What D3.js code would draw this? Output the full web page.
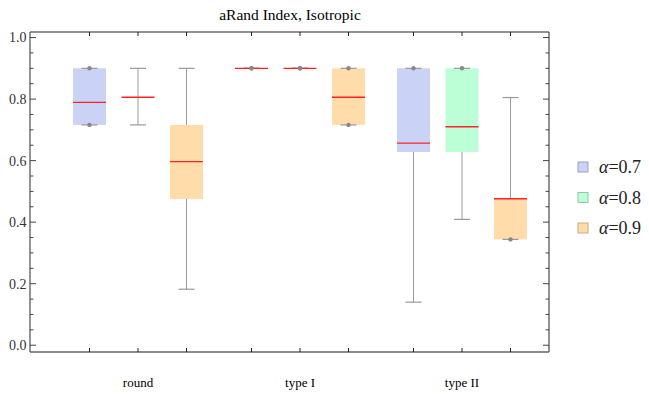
<!DOCTYPE html>
<html>
<head>
    <meta charset="utf-8">
    <title>aRand Index, Isotropic</title>
    <script src="https://d3js.org/d3.v7.min.js"></script>
    <style>
        body { margin: 0; background: #fff; }
        text { font-family: "Liberation Serif", "DejaVu Serif", serif; }
    </style>
</head>
<body>
    <svg width="649" height="394"></svg>
    <script>
        // dati
        var gruppi = ["round", "type I", "type II"];
        var alfa = ["0.7", "0.8", "0.9"];
        // per ogni gruppo, per ogni alfa: [min, q1, mediana, q3, max]
        var statRound = [
            [0.716, 0.716, 0.789, 0.9, 0.9],
            [0.716, 0.806, 0.806, 0.806, 0.9],
            [0.182, 0.475, 0.597, 0.716, 0.9]
        ];
        var statTypeI = [
            [0.9, 0.9, 0.9, 0.9, 0.9],
            [0.9, 0.9, 0.9, 0.9, 0.9],
            [0.716, 0.716, 0.806, 0.9, 0.9]
        ];
        var statTypeII = [
            [0.14, 0.628, 0.657, 0.9, 0.9],
            [0.409, 0.628, 0.71, 0.9, 0.9],
            [0.344, 0.344, 0.476, 0.476, 0.805]
        ];
        var yTicks = [0, 0.2, 0.4, 0.6, 0.8, 1.0];

        var riempimento = ["#cad3f6", "#bcfed6", "#ffdcaa"];
        var bordoLegenda = ["#9aa2c6", "#8fc8a3", "#c9ab7f"];

        var tutti = [statRound, statTypeI, statTypeII];

        var svg = d3.select("svg");
        var sinistra = 30, destra = 549, alto = 32, basso = 352;

        var y = d3.scaleLinear().domain([-0.022, 1.018]).range([basso, alto]);
        var xGruppo = d3.scalePoint().domain(gruppi).range([138, 462]);
        var xAlfa = d3.scalePoint().domain(alfa).range([-48.5, 48.5]);
        var larghezzaBox = 33;

        // titolo
        svg.append("text")
            .attr("x", 290).attr("y", 20)
            .attr("text-anchor", "middle")
            .style("font-size", "15.5px")
            .text("aRand Index, Isotropic");

        // box
        var scatole = [];
        gruppi.forEach(function (g, i) {
            alfa.forEach(function (a, j) {
                var s = tutti[i][j];
                scatole.push({ cx: xGruppo(g) + xAlfa(a), s: s, col: j });
            });
        });

        var box = svg.append("g").selectAll("g").data(scatole).enter().append("g");

        // baffi
        box.append("line")
            .attr("x1", function (d) { return d.cx; }).attr("x2", function (d) { return d.cx; })
            .attr("y1", function (d) { return y(d.s[0]); }).attr("y2", function (d) { return y(d.s[1]); })
            .attr("stroke", "#999").attr("stroke-width", 1);
        box.append("line")
            .attr("x1", function (d) { return d.cx; }).attr("x2", function (d) { return d.cx; })
            .attr("y1", function (d) { return y(d.s[3]); }).attr("y2", function (d) { return y(d.s[4]); })
            .attr("stroke", "#999").attr("stroke-width", 1);

        box.append("rect")
            .attr("x", function (d) { return d.cx - larghezzaBox / 2; })
            .attr("width", larghezzaBox)
            .attr("y", function (d) { return y(d.s[3]); })
            .attr("height", function (d) { return y(d.s[1]) - y(d.s[3]); })
            .attr("fill", function (d) { return riempimento[d.col]; });

        // estremi dei baffi
        [0, 4].forEach(function (k) {
            box.append("line")
                .attr("x1", function (d) { return d.cx - 8; }).attr("x2", function (d) { return d.cx + 8; })
                .attr("y1", function (d) { return y(d.s[k]); }).attr("y2", function (d) { return y(d.s[k]); })
                .attr("stroke", "#999").attr("stroke-width", 1.2);
        });

        // mediana
        box.append("line")
            .attr("x1", function (d) { return d.cx - larghezzaBox / 2; })
            .attr("x2", function (d) { return d.cx + larghezzaBox / 2; })
            .attr("y1", function (d) { return y(d.s[2]); }).attr("y2", function (d) { return y(d.s[2]); })
            .attr("stroke", "#f22").attr("stroke-width", 1.3);

        // punti dove il baffo ha lunghezza zero
        box.each(function (d) {
            var el = d3.select(this);
            if (d.s[0] === d.s[1]) {
                el.append("circle").attr("cx", d.cx).attr("cy", y(d.s[0])).attr("r", 2.2).attr("fill", "#888");
            }
            if (d.s[4] === d.s[3]) {
                el.append("circle").attr("cx", d.cx).attr("cy", y(d.s[4])).attr("r", 2.2).attr("fill", "#888");
            }
        });

        // cornice e tacche
        var cx = scatole.map(function (d) { return d.cx; });
        var cornice = svg.append("g");
        cornice.append("line").attr("x1", sinistra).attr("x2", destra).attr("y1", alto).attr("y2", alto)
            .attr("stroke", "#222").attr("stroke-width", 1);
        cornice.append("line").attr("x1", destra).attr("x2", destra).attr("y1", alto).attr("y2", basso)
            .attr("stroke", "#222").attr("stroke-width", 1);
        cornice.append("line").attr("x1", sinistra).attr("x2", destra).attr("y1", basso).attr("y2", basso)
            .attr("stroke", "#666").attr("stroke-width", 1.4);
        cornice.append("line").attr("x1", sinistra).attr("x2", sinistra).attr("y1", alto).attr("y2", basso)
            .attr("stroke", "#666").attr("stroke-width", 1.4);

        cx.forEach(function (v) {
            cornice.append("line").attr("x1", v).attr("x2", v).attr("y1", basso).attr("y2", basso - 4)
                .attr("stroke", "#222");
            cornice.append("line").attr("x1", v).attr("x2", v).attr("y1", alto).attr("y2", alto + 4)
                .attr("stroke", "#222");
        });

        var minori = d3.range(0, 21).map(function (i) { return i * 0.05; });
        minori.forEach(function (v) {
            var maggiore = Math.abs(v * 5 - Math.round(v * 5)) < 1e-6;
            var l = maggiore ? 6 : 3.5;
            cornice.append("line").attr("x1", sinistra).attr("x2", sinistra + l)
                .attr("y1", y(v)).attr("y2", y(v)).attr("stroke", "#444");
            cornice.append("line").attr("x1", destra).attr("x2", destra - l)
                .attr("y1", y(v)).attr("y2", y(v)).attr("stroke", "#444");
        });

        svg.append("g").selectAll("text").data(yTicks).enter().append("text")
            .attr("x", 26.5).attr("y", function (d) { return y(d); })
            .attr("dy", "0.35em")
            .attr("text-anchor", "end")
            .style("font-size", "14px")
            .attr("fill", "#333")
            .text(function (d) { return d.toFixed(1); });

        // etichette dei gruppi
        svg.append("g").selectAll("text").data(gruppi).enter().append("text")
            .attr("x", function (d) { return xGruppo(d); }).attr("y", 387)
            .attr("text-anchor", "middle")
            .style("font-size", "13px")
            .text(function (d) { return d; });

        // legenda
        var legenda = svg.append("g").selectAll("g").data(alfa).enter().append("g")
            .attr("transform", function (d, i) { return "translate(578," + (167 + i * 30.5) + ")"; });
        legenda.append("rect")
            .attr("x", 0).attr("y", -5).attr("width", 10).attr("height", 10)
            .attr("fill", function (d, i) { return riempimento[i]; })
            .attr("stroke", function (d, i) { return bordoLegenda[i]; });
        var t = legenda.append("text").attr("x", 21).attr("dy", "0.35em")
            .style("font-size", "18px").attr("fill", "#222");
        t.append("tspan").style("font-style", "italic").text("α");
        t.append("tspan").text(function (d) { return "=" + d; });
    </script>
</body>
</html>
